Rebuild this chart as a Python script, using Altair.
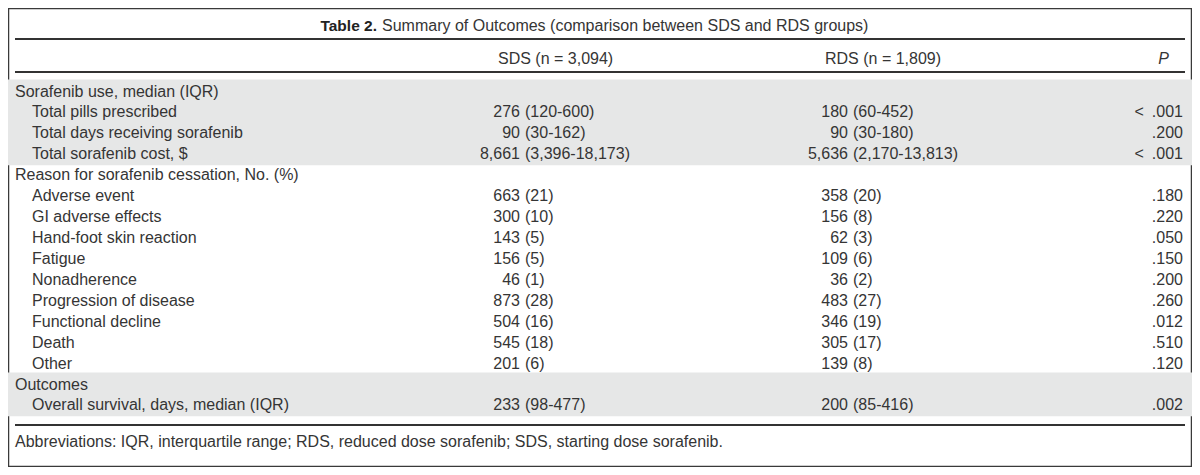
import altair as alt
import pandas as pd

# ---------------- data ----------------
title_bold = "Table 2."
title_text = "Summary of Outcomes (comparison between SDS and RDS groups)"
col_headers = ["SDS (n = 3,094)", "RDS (n = 1,809)", "P"]
footnote = ("Abbreviations: IQR, interquartile range; RDS, reduced dose sorafenib; "
            "SDS, starting dose sorafenib.")

row_labels = [
    "Sorafenib use, median (IQR)",
    "Total pills prescribed",
    "Total days receiving sorafenib",
    "Total sorafenib cost, $",
    "Reason for sorafenib cessation, No. (%)",
    "Adverse event",
    "GI adverse effects",
    "Hand-foot skin reaction",
    "Fatigue",
    "Nonadherence",
    "Progression of disease",
    "Functional decline",
    "Death",
    "Other",
    "Outcomes",
    "Overall survival, days, median (IQR)",
]
row_level = [0, 1, 1, 1, 0, 1, 1, 1, 1, 1, 1, 1, 1, 1, 0, 1]
sds_values = ["", "276 (120-600)", "90 (30-162)", "8,661 (3,396-18,173)", "",
              "663 (21)", "300 (10)", "143 (5)", "156 (5)", "46 (1)", "873 (28)",
              "504 (16)", "545 (18)", "201 (6)", "", "233 (98-477)"]
rds_values = ["", "180 (60-452)", "90 (30-180)", "5,636 (2,170-13,813)", "",
              "358 (20)", "156 (8)", "62 (3)", "109 (6)", "36 (2)", "483 (27)",
              "346 (19)", "305 (17)", "139 (8)", "", "200 (85-416)"]
p_values = ["", "< .001", ".200", "< .001", "", ".180", ".220", ".050", ".150",
            ".200", ".260", ".012", ".510", ".120", "", ".002"]
shaded_sections = [(0, 3), (14, 15)]

# ---------------- layout ----------------
W, H = 1184, 459
ROW0, ROWH = 83.5, 20.93
d0 = -ROW0 / ROWH
d1 = d0 + H / ROWH
yscale = alt.Scale(domain=[d0, d1], range=[0, H], nice=False, zero=False)

FONT = "Liberation Sans"
FS = 16
TXT = "#353535"
LINE = "#333333"
SHADE = "#e6e7e7"

X_SEC, X_IND = 7, 24
SDS_SPLIT, RDS_SPLIT = 512, 840
GAP = 5
P_RIGHT = 1175
LINE_X0, LINE_X1 = 7, 1177


def split(v):
    if not v:
        return "", ""
    a, b = v.split(" ", 1)
    return a, b


rows = pd.DataFrame({
    "row": list(range(len(row_labels))),
    "label": row_labels,
    "level": row_level,
    "sds_n": [split(v)[0] for v in sds_values],
    "sds_p": [split(v)[1] for v in sds_values],
    "rds_n": [split(v)[0] for v in rds_values],
    "rds_p": [split(v)[1] for v in rds_values],
    "p": [v.replace("< ", "<\u2002") for v in p_values],
})
rows["xlab"] = [X_SEC if l == 0 else X_IND for l in row_level]

bands = pd.DataFrame({
    "y0": [s - 0.57 for s, e in shaded_sections],
    "y1": [e + 0.52 for s, e in shaded_sections],
})

one = pd.DataFrame({"a": [0]})

band_layer = alt.Chart(bands).mark_rect(color=SHADE).encode(
    x=alt.value(0), x2=alt.value(W),
    y=alt.Y("y0:Q", scale=yscale, axis=None),
    y2="y1:Q",
)


def rule(ypix):
    return alt.Chart(one).mark_rule(color=LINE, strokeWidth=1.8).encode(
        x=alt.value(LINE_X0), x2=alt.value(LINE_X1), y=alt.value(ypix)
    )


def text_layer(field, align, x, **kw):
    return alt.Chart(rows).mark_text(
        align=align, baseline="middle", font=FONT, fontSize=FS, color=TXT, **kw
    ).encode(
        x=alt.value(x) if not isinstance(x, str) else alt.X(x, scale=None, axis=None),
        y=alt.Y("row:Q", scale=yscale, axis=None),
        text=f"{field}:N",
    )


labels = text_layer("label", "left", "xlab:Q")
sds_n = text_layer("sds_n", "right", SDS_SPLIT)
sds_p = text_layer("sds_p", "left", SDS_SPLIT + GAP)
rds_n = text_layer("rds_n", "right", RDS_SPLIT)
rds_p = text_layer("rds_p", "left", RDS_SPLIT + GAP)
pval = text_layer("p", "right", P_RIGHT)


def fixed_text(txt, x, y, align="left", **kw):
    base = dict(align=align, baseline="middle", font=FONT, fontSize=FS, color=TXT)
    base.update(kw)
    return alt.Chart(pd.DataFrame({"t": [txt]})).mark_text(**base).encode(
        x=alt.value(x), y=alt.value(y), text="t:N"
    )


title_b = fixed_text(title_bold, 369, 18, align="right", fontWeight="bold",
                     fontSize=15.5, color="#222222")
title_n = fixed_text(title_text, 374, 18)
hdr_sds = fixed_text(col_headers[0], 490, 51)
hdr_rds = fixed_text(col_headers[1], 817, 51)
hdr_p = fixed_text(col_headers[2], 1161, 51, align="right", fontStyle="italic")
foot = fixed_text(footnote, X_SEC, 434)

chart = alt.layer(
    band_layer,
    rule(31), rule(64), rule(417),
    title_b, title_n, hdr_sds, hdr_rds, hdr_p,
    labels, sds_n, sds_p, rds_n, rds_p, pval,
    foot,
).properties(
    width=W, height=H,
    autosize=alt.AutoSizeParams(type="fit", contains="padding"),
    padding=0,
).configure_view(stroke="#3a3a3a", strokeWidth=2.5)

chart.save("out.html", embed_options={"renderer": "svg", "actions": False})
